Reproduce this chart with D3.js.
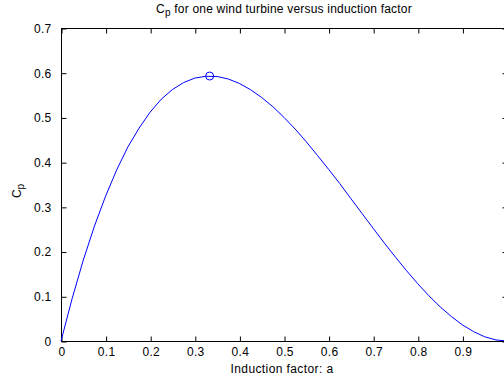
<!DOCTYPE html>
<html><head><meta charset="utf-8">
<script src="https://cdn.jsdelivr.net/npm/d3@7"></script>
<style>body{margin:0;background:#fff;}svg{display:block;}text{font-family:"Liberation Sans",Arial,sans-serif;fill:#000;}</style>
</head><body>
<svg id="c" width="504" height="381"></svg>
<script>
const inductionA = [0,0.025,0.05,0.075,0.1,0.125,0.15,0.175,0.2,0.225,0.25,0.275,0.3,0.325,0.35,0.375,0.4,0.425,0.45,0.475,0.5,0.525,0.55,0.575,0.6,0.625,0.65,0.675,0.7,0.725,0.75,0.775,0.8,0.825,0.85,0.875,0.9,0.925,0.95,0.975,1.0];
const cpValues = [0,0.095,0.181,0.257,0.324,0.383,0.434,0.476,0.512,0.541,0.5625,0.578,0.588,0.592,0.5915,0.586,0.576,0.562,0.5445,0.524,0.5,0.474,0.4455,0.415,0.384,0.352,0.3185,0.285,0.252,0.219,0.1875,0.157,0.128,0.101,0.0765,0.055,0.036,0.021,0.0095,0.0024,0];
const maxPoint = [{a:0.3333, cp:0.5926}];
const xTicks = [0,0.1,0.2,0.3,0.4,0.5,0.6,0.7,0.8,0.9];
const yTicks = [0,0.1,0.2,0.3,0.4,0.5,0.6,0.7];

const svg = d3.select("#c");
const L=61, R=507, T=28, B=341;
const x = d3.scaleLinear().domain([0,1]).range([L,R]);
const y = d3.scaleLinear().domain([0,0.7]).range([B,T]);
const FS = 12;

svg.append("rect").attr("x",L+0.5).attr("y",T+0.5).attr("width",R-L).attr("height",B-T)
 .attr("fill","none").attr("stroke","#000").attr("stroke-width",1);

const fmt = d => d===0 ? "0" : d3.format(".1f")(d);
const xb = svg.append("g").attr("transform",`translate(0.5,${B+0.5})`)
  .call(d3.axisBottom(x).tickValues(xTicks).tickSize(-5).tickPadding(6).tickFormat(fmt));
const xt = svg.append("g").attr("transform",`translate(0.5,${T+0.5})`)
  .call(d3.axisTop(x).tickValues(xTicks).tickSize(-5).tickFormat(""));
const yl = svg.append("g").attr("transform",`translate(${L+0.5},0.5)`)
  .call(d3.axisLeft(y).tickValues(yTicks).tickSize(-5).tickPadding(10).tickFormat(fmt));
const yr = svg.append("g").attr("transform",`translate(${R+0.5},0.5)`)
  .call(d3.axisRight(y).tickValues(yTicks).tickSize(-5).tickFormat(""));
[xb,xt,yl,yr].forEach(a=>{
  a.select(".domain").remove();
  a.selectAll("line").attr("stroke","#000");
  a.selectAll("text").attr("font-size",FS).attr("font-family","Liberation Sans, Arial, sans-serif").attr("fill","#000").attr("letter-spacing",0.3);
});

const data = inductionA.map((a,i)=>({a, cp:cpValues[i]}));
svg.append("path").datum(data)
  .attr("d", d3.line().x(d=>x(d.a)).y(d=>y(d.cp)))
  .attr("fill","none").attr("stroke","#0000ff").attr("stroke-width",1);
svg.selectAll(".m").data(maxPoint).enter().append("circle")
  .attr("cx",d=>x(d.a)).attr("cy",d=>y(d.cp)).attr("r",4)
  .attr("fill","none").attr("stroke","#0000ff").attr("stroke-width",1);

const title = svg.append("text").attr("x",284).attr("y",13).attr("text-anchor","middle").attr("font-size",FS).attr("letter-spacing",0.2);
title.append("tspan").text("C");
title.append("tspan").attr("font-size",10).attr("dy",3).text("p");
title.append("tspan").attr("dy",-3).text(" for one wind turbine versus induction factor");

svg.append("text").attr("x",282).attr("y",373).attr("text-anchor","middle").attr("font-size",FS).attr("letter-spacing",0.4).text("Induction factor: a");

const yt = svg.append("text").attr("transform","translate(21,191) rotate(-90)").attr("text-anchor","middle").attr("font-size",FS);
yt.append("tspan").text("C");
yt.append("tspan").attr("font-size",10).attr("dy",3).text("p");
</script>
</body></html>
